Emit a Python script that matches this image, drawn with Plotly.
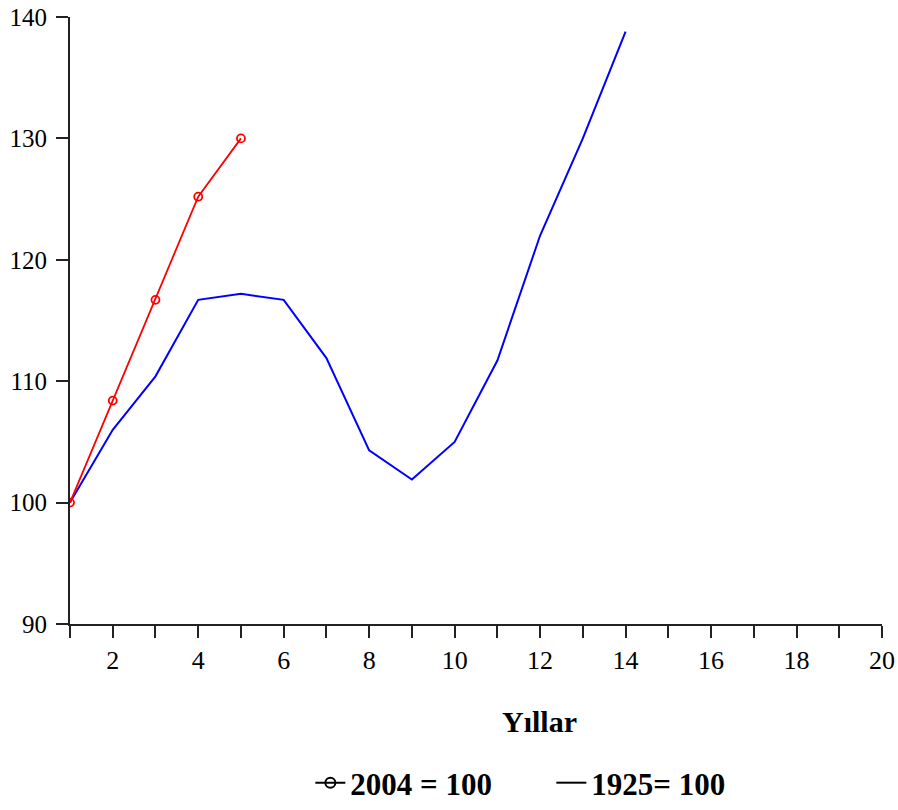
import plotly.graph_objects as go

# Data
years_2004 = [1, 2, 3, 4, 5]
index_2004 = [100.0, 108.4, 116.7, 125.2, 130.0]

years_1925 = [1, 2, 3, 4, 5, 6, 7, 8, 9, 10, 11, 12, 13, 14]
index_1925 = [100.0, 106.0, 110.4, 116.7, 117.2, 116.7, 111.9, 104.3, 101.9, 105.0, 111.7, 122.0, 130.0, 138.8]

legend_2004 = "2004 = 100"
legend_1925 = "1925= 100"
x_title = "Yıllar"

x_tickvals = list(range(1, 21))
x_ticktext = [str(v) if v % 2 == 0 else "" for v in x_tickvals]
y_tickvals = [90, 100, 110, 120, 130, 140]

serif = "Liberation Serif, Times New Roman, serif"

fig = go.Figure()

fig.add_trace(go.Scatter(
    x=years_1925, y=index_1925, mode="lines",
    line=dict(color="#0000ff", width=2),
    showlegend=False, hoverinfo="x+y",
))
fig.add_trace(go.Scatter(
    x=years_2004, y=index_2004, mode="lines+markers",
    line=dict(color="#ff0000", width=1.8),
    marker=dict(symbol="circle-open", size=8, color="#ff0000", line=dict(width=1.8)),
    showlegend=False, hoverinfo="x+y",
))

# legend entries (drawn in black, as in the reference)
fig.add_trace(go.Scatter(
    x=[None], y=[None], mode="lines+markers", name=legend_2004,
    line=dict(color="#000000", width=2),
    marker=dict(symbol="circle-open", size=10, color="#000000", line=dict(width=2)),
))
fig.add_trace(go.Scatter(
    x=[None], y=[None], mode="lines", name=legend_1925,
    line=dict(color="#000000", width=2),
))

fig.update_layout(
    width=898, height=810,
    margin=dict(l=70, r=16, t=17, b=186, autoexpand=False),
    paper_bgcolor="white", plot_bgcolor="white",
    font=dict(family=serif, color="#000000"),
    showlegend=True,
    legend=dict(
        orientation="h", x=0.296, xanchor="left", y=-0.262, yanchor="middle",
        font=dict(family=serif, size=31, weight="bold", color="#000000"),
        entrywidth=196, entrywidthmode="pixels",
        itemwidth=30, bgcolor="rgba(0,0,0,0)",
    ),
    xaxis=dict(
        range=[1, 20], tickmode="array", tickvals=x_tickvals, ticktext=x_ticktext,
        ticks="outside", ticklen=12, tickwidth=2, tickcolor="#222",
        showline=True, linecolor="#222", linewidth=2,
        showgrid=False, zeroline=False, automargin=False,
        tickfont=dict(family=serif, size=26, color="#000"),
    ),
    yaxis=dict(
        range=[90, 140], tickmode="array", tickvals=y_tickvals,
        ticks="outside", ticklen=12, tickwidth=2, tickcolor="#222",
        showline=True, linecolor="#222", linewidth=2,
        showgrid=False, zeroline=False, ticklabelstandoff=4, automargin=False,
        tickfont=dict(family=serif, size=25, color="#000"),
    ),
    annotations=[dict(
        text=x_title, xref="paper", yref="paper", x=0.578, y=-0.161,
        xanchor="center", yanchor="middle", showarrow=False,
        font=dict(family=serif, size=30, weight="bold", color="#000"),
    )],
)

fig.write_html(
    "out.html",
    config={"displayModeBar": False},
    post_script="document.body.style.margin='0';document.body.style.overflow='hidden';",
)
